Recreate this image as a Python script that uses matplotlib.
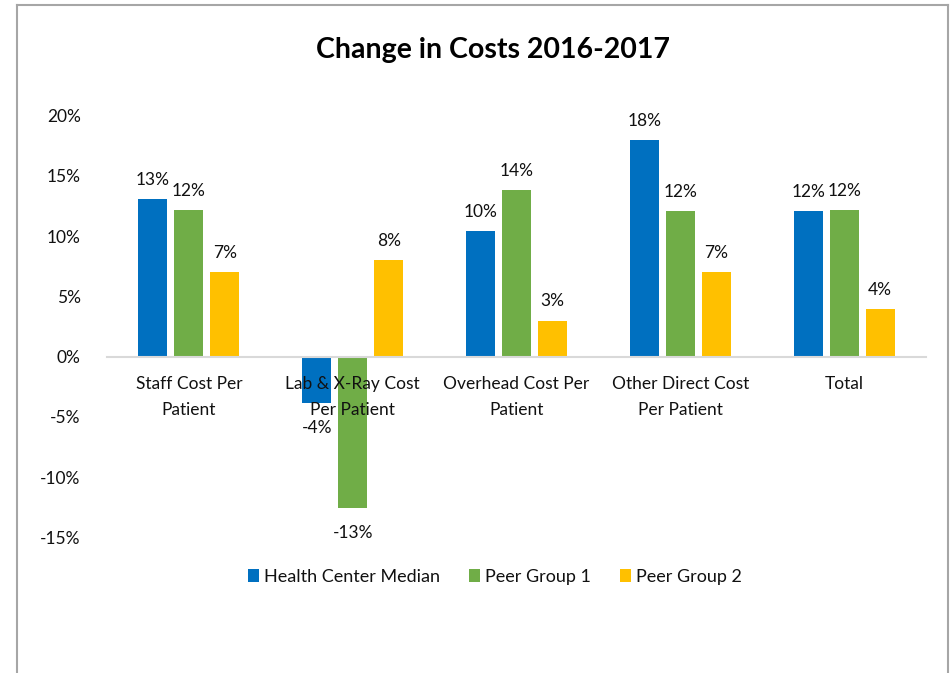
import matplotlib.pyplot as plt
import numpy as np
from matplotlib.lines import Line2D
from matplotlib.patches import Patch

categories = ["Staff Cost Per\nPatient", "Lab & X-Ray Cost\nPer Patient",
              "Overhead Cost Per\nPatient", "Other Direct Cost\nPer Patient", "Total"]
series_names = ["Health Center Median", "Peer Group 1", "Peer Group 2"]
health_center = [13.1, -3.85, 10.4, 17.96, 12.07]
peer_group_1 = [12.15, -12.55, 13.8, 12.07, 12.15]
peer_group_2 = [7.0, 8.0, 3.0, 7.0, 3.98]
y_ticks = [-15, -10, -5, 0, 5, 10, 15, 20]

colors = ["#0070C0", "#70AD47", "#FFC000"]
txt = "#111111"
plt.rcParams['font.family'] = ['Lato', 'DejaVu Sans']

W, H = 951, 673
fig = plt.figure(figsize=(W / 100, H / 100), dpi=100)
ax = fig.add_axes([107 / W, 1 - 537.5 / H, 819 / W, (537.5 - 115.7) / H])

# zero line as bottom spine (set before tick styling, it resets ticks)
for s in ["top", "right", "left"]:
    ax.spines[s].set_visible(False)
ax.spines["bottom"].set_position(("data", 0))
ax.spines["bottom"].set_color("#D9D9D9")
ax.spines["bottom"].set_linewidth(1.5)

x = np.arange(len(categories))
width = 0.177
step = 0.22
for k, vals in enumerate([health_center, peer_group_1, peer_group_2]):
    xs = x + (k - 1) * step
    ax.bar(xs, vals, width, color=colors[k], zorder=1)
    for xi, v in zip(xs, vals):
        if v >= 0:
            ax.annotate(f"{v:.0f}%", (xi, v), xytext=(0, 8), textcoords="offset points",
                        ha="center", va="bottom", fontsize=12.5, color=txt)
        else:
            ax.annotate(f"{v:.0f}%", (xi, v), xytext=(0, -12), textcoords="offset points",
                        ha="center", va="top", fontsize=12.5, color=txt)

ax.set_xlim(-0.5, len(categories) - 0.5)
ax.set_ylim(-15, 20)
ax.set_yticks(y_ticks)
ax.set_yticklabels([f"{t}%" for t in y_ticks], fontsize=12.5, color=txt)
ax.set_xticks(x)
ax.set_xticklabels(categories, fontsize=12.5, color=txt, linespacing=1.75)
ax.tick_params(axis="both", length=0)
ax.tick_params(axis="y", pad=19)
ax.tick_params(axis="x", pad=14)

fig.text(493 / W, 1 - 50 / H, "Change in Costs 2016-2017", ha="center", va="center",
         fontsize=20.5, fontweight="bold", color="#000000")

handles = [Patch(facecolor=c) for c in colors]
fig.legend(handles, series_names, loc="center", bbox_to_anchor=(495 / W, 1 - 577 / H),
           ncol=3, frameon=False, fontsize=13, handlelength=0.6, handleheight=0.7,
           handletextpad=0.3, columnspacing=1.6, labelcolor=txt)

# chart border (left, top, right)
bc = "#A6A6A6"
fig.add_artist(Line2D([17 / W, 17 / W], [0, 1 - 4.5 / H], color=bc, lw=1.5, transform=fig.transFigure))
fig.add_artist(Line2D([17 / W, 947.5 / W], [1 - 4.5 / H, 1 - 4.5 / H], color=bc, lw=1.5, transform=fig.transFigure))
fig.add_artist(Line2D([947.5 / W, 947.5 / W], [0, 1 - 4.5 / H], color=bc, lw=1.5, transform=fig.transFigure))

fig.savefig("out.png", dpi=100)
